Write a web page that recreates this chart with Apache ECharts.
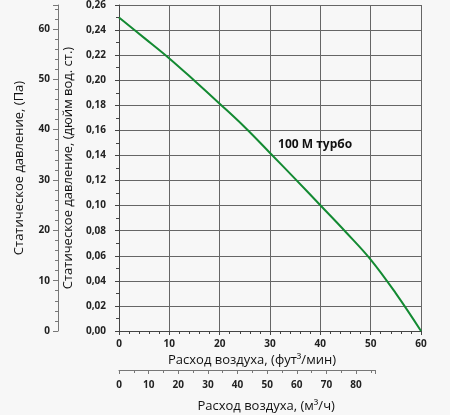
<!DOCTYPE html>
<html>
<head>
<meta charset="utf-8">
<script src="https://cdn.jsdelivr.net/npm/echarts@6/dist/echarts.min.js"></script>
<style>
html,body{margin:0;padding:0;background:#f7f7f7;}
#chart{width:450px;height:415px;}
</style>
</head>
<body>
<div id="chart"></div>
<script>
// Data
const flowCfm = [0, 5, 10, 15, 20, 25, 30, 35, 40, 45, 50, 55, 60];
const pressureInWg = [0.250, 0.2338, 0.2174, 0.1996, 0.1813, 0.1625, 0.1420, 0.1213, 0.1003, 0.0792, 0.0570, 0.0300, 0.000];
const seriesName = '100 M турбо';
const labelAt = [31.6, 0.149];

// Axis ranges and unit conversions
const cfmMax = 60;
const inWgMax = 0.26;
const PA_PER_INWG = 249.089;
const M3H_PER_CFM = 1.699;
const m3hAxisEnd = 86.5;

const chartW = 450;
const gridLeft = 119, gridRight = 29;
const plotW = chartW - gridLeft - gridRight;
const m3hWidth = plotW * m3hAxisEnd / (cfmMax * M3H_PER_CFM);

const font = "'Open Sans', 'DejaVu Sans', sans-serif";
const tickLabel = {fontFamily: font, fontSize: 10, color: '#222'};

const chart = echarts.init(document.getElementById('chart'));
chart.setOption({
  backgroundColor: '#f7f7f7',
  animation: false,
  grid: [
    {left: gridLeft, right: gridRight, top: 5, bottom: 84},
    {left: gridLeft, width: m3hWidth, top: 369, height: 1}
  ],
  xAxis: [
    {
      type: 'value', gridIndex: 0, min: 0, max: cfmMax, interval: 10,
      name: 'Расход воздуха, (фут³/мин)', nameLocation: 'middle', nameGap: 20,
      nameTextStyle: {fontFamily: font, fontSize: 13, color: '#111', padding: [0, 36, 0, 0]},
      axisLine: {show: true, lineStyle: {color: '#444', width: 1}},
      axisTick: {show: true, length: 4, lineStyle: {color: '#444'}},
      minorTick: {show: true, splitNumber: 5, length: 3, lineStyle: {color: '#444'}},
      axisLabel: Object.assign({margin: 8, fontWeight: 'bold'}, tickLabel),
      splitLine: {show: true, lineStyle: {color: '#666', width: 1}}
    },
    {
      type: 'value', gridIndex: 1, min: 0, max: m3hAxisEnd, interval: 10,
      name: 'Расход воздуха, (м³/ч)', nameLocation: 'middle', nameGap: 30,
      nameTextStyle: {fontFamily: font, fontSize: 13, color: '#111', padding: [0, 0, 0, 38]},
      axisLine: {show: true, lineStyle: {color: '#777', width: 1}},
      axisTick: {show: true, length: 4, lineStyle: {color: '#777'}},
      minorTick: {show: true, splitNumber: 2, length: 3, lineStyle: {color: '#777'}},
      axisLabel: Object.assign({margin: 10, fontWeight: 'bold', showMaxLabel: false}, tickLabel),
      splitLine: {show: false}
    }
  ],
  yAxis: [
    {
      type: 'value', gridIndex: 0, min: 0, max: inWgMax, interval: 0.02,
      name: 'Статическое давление, (дюйм вод. ст.)', nameLocation: 'middle', nameGap: 40,
      nameTextStyle: {fontFamily: font, fontSize: 13, color: '#111'},
      axisLine: {show: true, lineStyle: {color: '#444', width: 1}},
      axisTick: {show: true, length: 4, lineStyle: {color: '#444'}},
      minorTick: {show: true, splitNumber: 2, length: 3, lineStyle: {color: '#444'}},
      axisLabel: Object.assign({margin: 13, fontWeight: 'bold',
        formatter: v => v.toFixed(2).replace('.', ',')}, tickLabel),
      splitLine: {show: true, lineStyle: {color: '#666', width: 1}}
    },
    {
      type: 'value', gridIndex: 0, position: 'left', offset: 61,
      min: 0, max: inWgMax * PA_PER_INWG, interval: 10,
      name: 'Статическое давление, (Па)', nameLocation: 'middle', nameGap: 32,
      nameTextStyle: {fontFamily: font, fontSize: 13, color: '#111'},
      axisLine: {show: true, lineStyle: {color: '#777', width: 1}},
      axisTick: {show: true, length: 5, lineStyle: {color: '#777'}},
      minorTick: {show: true, splitNumber: 5, length: 3, lineStyle: {color: '#777'}},
      axisLabel: Object.assign({margin: 8, fontWeight: 'bold', showMaxLabel: false}, tickLabel),
      splitLine: {show: false}
    },
    {
      type: 'value', gridIndex: 1, show: false, min: 0, max: 1
    }
  ],
  series: [{
    name: seriesName,
    type: 'line',
    xAxisIndex: 0, yAxisIndex: 0,
    data: flowCfm.map((x, i) => [x, pressureInWg[i]]),
    smooth: 0.4,
    showSymbol: false,
    lineStyle: {color: '#138a32', width: 2},
    markPoint: {
      symbolSize: 0,
      data: [{coord: labelAt}],
      label: {
        show: true, position: 'right', distance: 0,
        formatter: seriesName,
        fontFamily: font, fontSize: 12, fontWeight: 'bold', color: '#111'
      }
    }
  }]
});
</script>
</body>
</html>
